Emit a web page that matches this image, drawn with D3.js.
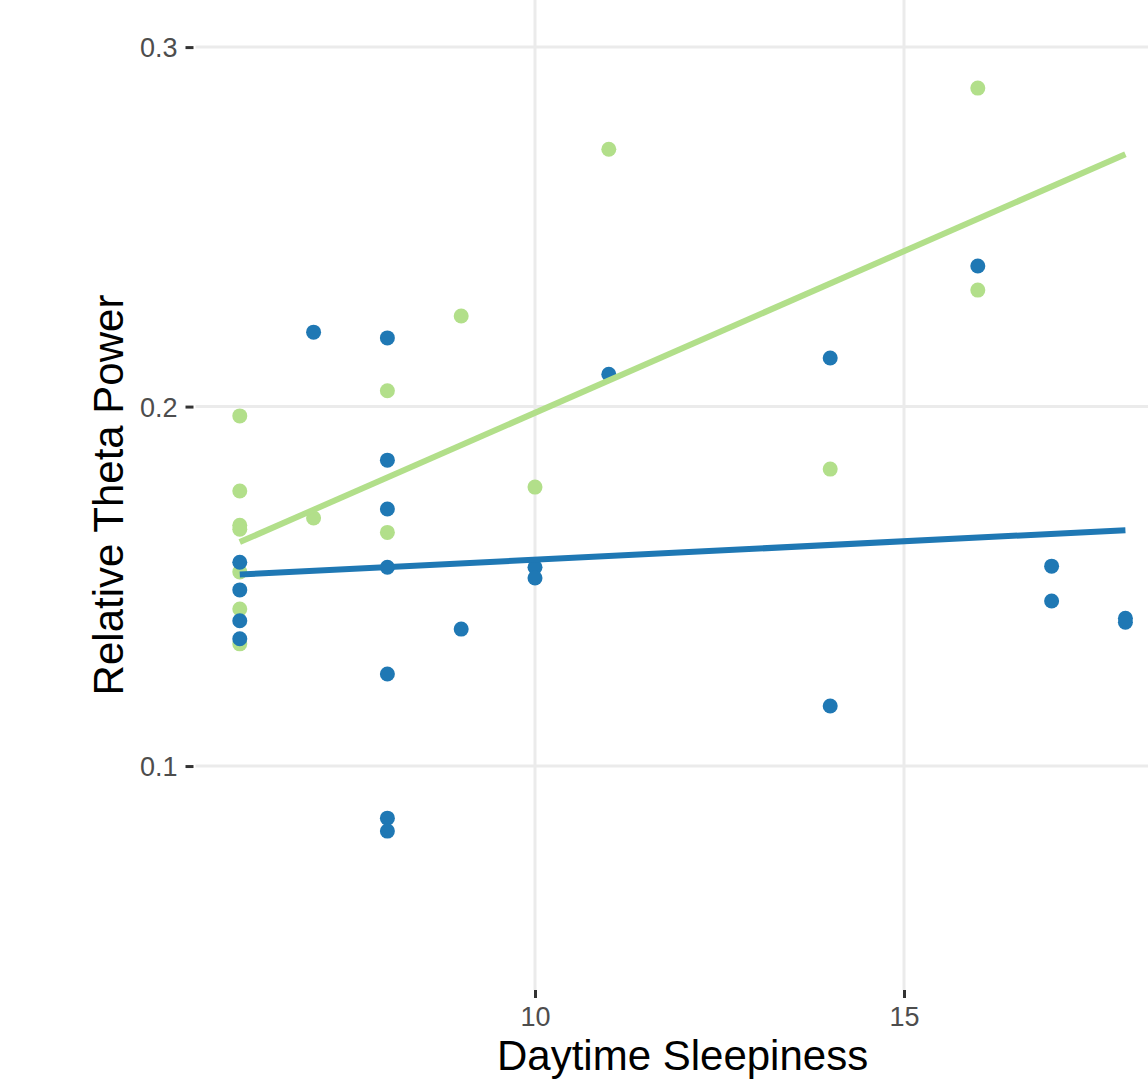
<!DOCTYPE html>
<html>
<head>
<meta charset="utf-8">
<script src="https://cdn.jsdelivr.net/npm/d3@7"></script>
<style>
  body { margin: 0; background: #fff; }
  text { font-family: "Liberation Sans", Arial, sans-serif; }
</style>
</head>
<body>
<div id="graph"></div>
<script>
// sleepiness score vs relative theta power, two groups
var blueX = [6, 6, 6, 6, 7, 8, 8, 8, 8, 8, 8, 8, 9, 10, 10, 11, 14, 14, 16, 17, 17, 18, 18]
var blueY = [0.1567, 0.1490, 0.1404, 0.1354, 0.2207, 0.2191, 0.1851, 0.1715, 0.1553, 0.1256,
  0.0855, 0.0819, 0.1381, 0.1553, 0.1523, 0.2090, 0.2135, 0.1167, 0.2391, 0.1556, 0.1459, 0.1411, 0.1400]

var greenX = [6, 6, 6, 6, 6, 6, 6, 7, 8, 8, 9, 10, 11, 14, 16, 16]
var greenY = [0.1974, 0.1765, 0.1670, 0.1659, 0.1540, 0.1437, 0.1340, 0.1690, 0.2044, 0.1650,
  0.2252, 0.1776, 0.2716, 0.1826, 0.2886, 0.2324]

// fitted lines at the ends of the range
var fitX = [6, 18]
var blueFit = [0.1533, 0.1656]
var greenFit = [0.1623, 0.2702]

var xTicks = [10, 15]
var yTicks = [0.1, 0.2, 0.3]

var width = 1148, height = 1089
var panel = {left: 195.5, right: 1169.7, top: 0, bottom: 990}

var svg = d3.select('#graph').append('svg')
  .attr('width', width).attr('height', height)

var x = d3.scaleLinear().domain([5.4, 18.6]).range([panel.left, panel.right])
var y = d3.scaleLinear().domain([0.0377, 0.3131]).range([panel.bottom, panel.top])

// grid
svg.append('g').selectAll('line').data(yTicks).join('line')
  .attr('x1', panel.left).attr('x2', panel.right)
  .attr('y1', d => y(d)).attr('y2', d => y(d))
  .attr('stroke', '#ebebeb').attr('stroke-width', 3)

svg.append('g').selectAll('line').data(xTicks).join('line')
  .attr('y1', panel.top).attr('y2', panel.bottom)
  .attr('x1', d => x(d)).attr('x2', d => x(d))
  .attr('stroke', '#ebebeb').attr('stroke-width', 3)

// axes
var yAxis = svg.append('g')
  .attr('transform', `translate(${panel.left - 2},0)`)
  .call(d3.axisLeft(y).tickValues(yTicks).tickSize(8).tickPadding(8).tickFormat(d3.format('.1f')))
var xAxis = svg.append('g')
  .attr('transform', `translate(0,${panel.bottom})`)
  .call(d3.axisBottom(x).tickValues(xTicks).tickSize(8).tickPadding(8))

;[xAxis, yAxis].forEach(a => {
  a.select('.domain').remove()
  a.selectAll('line').attr('stroke', '#333').attr('stroke-width', 3)
  a.selectAll('text').attr('fill', '#4d4d4d').style('font-size', '27px')
    .style('font-family', '"Liberation Sans", Arial, sans-serif')
})
yAxis.selectAll('text').attr('dy', '0.36em')
xAxis.selectAll('text').attr('dy', '0.74em')

// points
var greenPts = greenX.map((d, i) => [d, greenY[i]])
var bluePts = blueX.map((d, i) => [d, blueY[i]])

svg.append('g').selectAll('circle').data(greenPts).join('circle')
  .attr('cx', d => x(d[0])).attr('cy', d => y(d[1])).attr('r', 7.5)
  .attr('fill', '#b2df8a')
svg.append('g').selectAll('circle').data(bluePts).join('circle')
  .attr('cx', d => x(d[0])).attr('cy', d => y(d[1])).attr('r', 7.5)
  .attr('fill', '#1f78b4')

var line = d3.line().x(d => x(d[0])).y(d => y(d[1]))
svg.append('path').attr('d', line(fitX.map((d, i) => [d, greenFit[i]])))
  .attr('fill', 'none').attr('stroke', '#b2df8a').attr('stroke-width', 6)
svg.append('path').attr('d', line(fitX.map((d, i) => [d, blueFit[i]])))
  .attr('fill', 'none').attr('stroke', '#1f78b4').attr('stroke-width', 6)

// titles
svg.append('text').text('Daytime Sleepiness')
  .attr('x', (panel.left + panel.right) / 2).attr('y', 1070)
  .attr('text-anchor', 'middle').style('font-size', '42px').attr('fill', '#000')
svg.append('text').text('Relative Theta Power')
  .attr('transform', `translate(123,${(panel.top + panel.bottom) / 2}) rotate(-90)`)
  .attr('text-anchor', 'middle').style('font-size', '42px').attr('fill', '#000')
</script>
</body>
</html>
